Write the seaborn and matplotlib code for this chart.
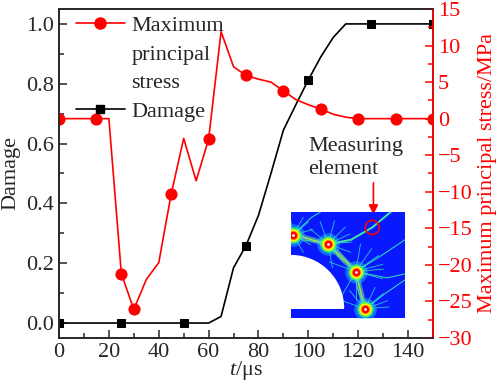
import numpy as np
import pandas as pd
import matplotlib
matplotlib.use("Agg")
import matplotlib.pyplot as plt
from matplotlib.lines import Line2D
from matplotlib.patches import Wedge, Circle
from matplotlib.ticker import MultipleLocator
import seaborn as sns

# data
t = [0, 5, 10, 15, 20, 25, 30, 35, 40, 45, 50, 55, 60, 65, 70, 75, 80, 85, 90, 95,
     100, 105, 110, 115, 120, 125, 130, 135, 140, 145, 150]
stress = [0, 0, 0, 0, 0, -21.2, -26.1, -22.0, -19.7, -10.3, -2.7, -8.5, -2.8, 11.9, 7.1,
          5.9, 5.4, 5.0, 3.8, 2.6, 1.9, 1.3, 0.6, 0.2, 0, 0, 0, 0, 0, 0, 0]
damage = [0, 0, 0, 0, 0, 0, 0, 0, 0, 0, 0, 0, 0, 0.022, 0.185, 0.259, 0.36, 0.50, 0.645,
          0.73, 0.813, 0.89, 0.955, 1.0, 1.0, 1.0, 1.0, 1.0, 1.0, 1.0, 1.0]
stress_marks = [0, 3, 5, 6, 9, 12, 15, 18, 21, 24, 27, 30]
damage_marks = [0, 5, 10, 15, 20, 25, 30]

df = pd.DataFrame({"t": t, "stress": stress, "damage": damage})

sns.set_style("ticks")
plt.rcParams["font.family"] = ["Liberation Serif", "DejaVu Serif"]
plt.rcParams["mathtext.fontset"] = "custom"
plt.rcParams["mathtext.it"] = "Liberation Serif:italic"
plt.rcParams["mathtext.rm"] = "Liberation Serif"
plt.rcParams["xtick.direction"] = "in"
plt.rcParams["ytick.direction"] = "in"
fs = 16

fig = plt.figure(figsize=(4.98, 3.88), dpi=100)
ax = fig.add_axes([0.1185, 0.1289, 0.751, 0.848])
ax2 = ax.twinx()

red = "#ff0000"
sns.lineplot(data=df, x="t", y="damage", ax=ax, color="black", lw=1.2,
             marker="s", markersize=5.5, markevery=damage_marks, mec="black", clip_on=True)
sns.lineplot(data=df, x="t", y="stress", ax=ax2, color=red, lw=1.2,
             marker="o", markersize=8, markevery=stress_marks, mec=red, clip_on=True)

ax.set_xlim(0, 150)
ax.set_ylim(-0.05, 1.05)
ax2.set_ylim(-30, 15)
ax.xaxis.set_major_locator(MultipleLocator(20))
ax.xaxis.set_minor_locator(MultipleLocator(10))
ax.yaxis.set_major_locator(MultipleLocator(0.2))
ax.yaxis.set_minor_locator(MultipleLocator(0.1))
ax2.yaxis.set_major_locator(MultipleLocator(5))
ax2.yaxis.set_minor_locator(MultipleLocator(2.5))
ax.set_xticks([0, 20, 40, 60, 80, 100, 120, 140])
ax.yaxis.set_major_formatter(matplotlib.ticker.FormatStrFormatter("%.1f"))

ax.tick_params(which="major", length=6, width=1.1, labelsize=fs, top=False, right=False)
ax.tick_params(which="minor", length=3.5, width=1.1, top=False, right=False)
ax2.tick_params(which="major", length=6, width=1.1, labelsize=fs, colors=red)
ax2.tick_params(which="minor", length=3.5, width=1.1, colors=red)
for sp in ax.spines.values():
    sp.set_linewidth(1.2)
for sp in ax2.spines.values():
    sp.set_linewidth(1.2)
ax2.spines["right"].set_color(red)

ax.set_xlabel("$t$/μs", fontsize=fs, labelpad=-2)
ax.set_ylabel("Damage", fontsize=fs, labelpad=4)
ax2.set_ylabel("Maximum principal stress/MPa", fontsize=fs, color=red, labelpad=4)

# legend
handles = [Line2D([], [], color=red, lw=1.2, marker="o", markersize=8),
           Line2D([], [], ls="none"),
           Line2D([], [], ls="none"),
           Line2D([], [], color="black", lw=1.2, marker="s", markersize=5.5)]
labels = ["Maximum", "principal", "stress", "Damage"]
ax2.legend(handles, labels, loc="upper left", bbox_to_anchor=(0.045, 0.981),
           frameon=False, fontsize=fs, handlelength=2.2, handletextpad=0.3,
           labelspacing=0.37, borderpad=0, borderaxespad=0)

# annotation
ax2.text(100, -5.4, "Measuring\nelement", fontsize=fs, va="center", ha="left",
         linespacing=1.25)
ax2.annotate("", xy=(126.1, -13.5), xytext=(126.1, -8.4),
             arrowprops=dict(arrowstyle="-|>", color=red, lw=1.2, mutation_scale=14))

# inset picture of the model
ins = fig.add_axes([0.5843, 0.1804, 0.2289, 0.274])
ins.set_facecolor("#0818ff")
ins.set_xlim(0, 114)
ins.set_ylim(0, 106)
ins.set_xticks([])
ins.set_yticks([])
for sp in ins.spines.values():
    sp.set_visible(False)

hot_x = [2.3, 37.3, 64.7, 74.0]
hot_y = [83.0, 73.7, 46.3, 9.0]
crack_angles = [[15, 40, 165, 60, -30, -60, 100, 130],
                [25, 45, 75, 110, 140, -20, -50, -80, 5, 170],
                [15, 35, 55, 80, -15, 130, -120, -90, 5, 160],
                [20, 40, 65, 5, 110, 130, 160]]
crack_len = [20, 24, 28, 24]
for hx, hy, angs, L in zip(hot_x, hot_y, crack_angles, crack_len):
    for a in angs:
        r = np.radians(a)
        ins.plot([hx, hx + L * np.cos(r)], [hy, hy + L * np.sin(r)],
                 color="#30e8c0", lw=0.6, alpha=0.85, zorder=2)
# cracks linking the hot spots and running to the measuring point
ins.plot(hot_x, hot_y, color="#60f080", lw=4, alpha=0.55, zorder=2)
ins.plot(hot_x, hot_y, color="#d8f040", lw=1.0, alpha=0.8, zorder=2)
ins.plot([37.3, 60, 81.3, 100], [73.7, 78, 90.3, 106], color="#40e8a0", lw=1.4, zorder=2)
ins.plot([64.7, 90, 114], [46.3, 62, 78], color="#30e8c0", lw=0.7, zorder=2)
ins.plot([74, 95, 114], [9, 25, 38], color="#30e8c0", lw=0.7, zorder=2)
ins.plot([64.7, 96, 114], [46.3, 40, 44], color="#30e8c0", lw=0.7, zorder=2)
ins.plot([2.3, 20, 30], [83, 100, 106], color="#30e8c0", lw=0.7, zorder=2)

ins.add_patch(Wedge((0, 9.7), 52.5, 0, 90, color="white", zorder=5))

for s, c, a in [(260, "#20d0ff", 0.45), (140, "#40ff60", 0.8), (80, "#ffff00", 1.0),
                (45, "#ff8000", 1.0), (28, "#ff0000", 1.0), (4, "white", 1.0)]:
    ins.scatter(hot_x, hot_y, s=s, color=c, lw=0, alpha=a, zorder=6)
ins.add_patch(Circle((81.3, 90.3), 7, fill=False, edgecolor=red, lw=1.2, zorder=7))

fig.savefig("out.png", dpi=100)
